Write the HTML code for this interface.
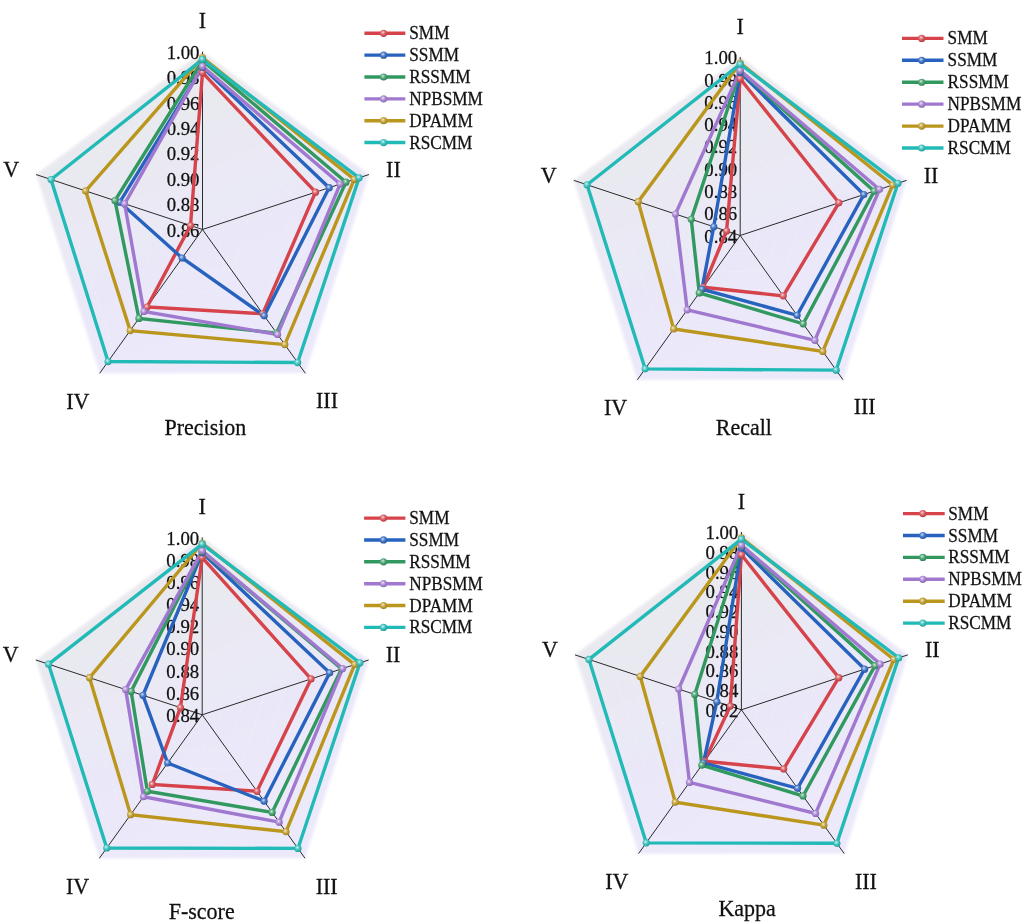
<!DOCTYPE html>
<html><head><meta charset="utf-8"><title>Radar charts</title>
<style>
html,body{margin:0;padding:0;background:#fff;}
body{width:1024px;height:924px;overflow:hidden;}
svg{display:block;filter:blur(0.4px);}
text{font-family:"Liberation Serif",serif;fill:#111;stroke:#111;stroke-width:0.25px;}
</style></head><body>
<svg width="1024" height="924" viewBox="0 0 1024 924">
<defs>
<linearGradient id="bg" x1="0.1" y1="0" x2="0.55" y2="1"><stop offset="0" stop-color="#e9e9ec"/><stop offset="0.35" stop-color="#e9e9f1"/><stop offset="0.65" stop-color="#eae8f8"/><stop offset="1" stop-color="#ebe9fa"/></linearGradient>
<radialGradient id="m0" cx="0.42" cy="0.4" r="0.62" fx="0.4" fy="0.36"><stop offset="0" stop-color="#f7d9db"/><stop offset="0.45" stop-color="#de696e"/><stop offset="1" stop-color="#b6393f"/></radialGradient>
<radialGradient id="m1" cx="0.42" cy="0.4" r="0.62" fx="0.4" fy="0.36"><stop offset="0" stop-color="#d4e0f2"/><stop offset="0.45" stop-color="#5281cc"/><stop offset="1" stop-color="#2153a2"/></radialGradient>
<radialGradient id="m2" cx="0.42" cy="0.4" r="0.62" fx="0.4" fy="0.36"><stop offset="0" stop-color="#d6ebdf"/><stop offset="0.45" stop-color="#5aad7f"/><stop offset="1" stop-color="#2a8251"/></radialGradient>
<radialGradient id="m3" cx="0.42" cy="0.4" r="0.62" fx="0.4" fy="0.36"><stop offset="0" stop-color="#ece4f6"/><stop offset="0.45" stop-color="#b393d9"/><stop offset="1" stop-color="#8866b1"/></radialGradient>
<radialGradient id="m4" cx="0.42" cy="0.4" r="0.62" fx="0.4" fy="0.36"><stop offset="0" stop-color="#f1ead2"/><stop offset="0.45" stop-color="#c9ab49"/><stop offset="1" stop-color="#9f8018"/></radialGradient>
<radialGradient id="m5" cx="0.42" cy="0.4" r="0.62" fx="0.4" fy="0.36"><stop offset="0" stop-color="#d3f1f1"/><stop offset="0.45" stop-color="#4ec8c5"/><stop offset="1" stop-color="#1d9e9c"/></radialGradient>
<filter id="halo" x="-10%" y="-10%" width="120%" height="120%"><feGaussianBlur stdDeviation="1.8"/></filter>
</defs>
<polygon points="202.5,51.7 368.93,174.56 305.36,373.34 99.64,373.34 36.07,174.56" fill="url(#bg)" filter="url(#halo)"/>
<polygon points="202.5,204.1 226.28,221.65 217.19,250.05 187.81,250.05 178.72,221.65" fill="none" stroke="#f3f3fb" stroke-width="0.8" stroke-dasharray="3,3" opacity="0.7"/>
<polygon points="202.5,178.7 250.05,213.8 231.89,270.6 173.11,270.6 154.95,213.8" fill="none" stroke="#f3f3fb" stroke-width="0.8" stroke-dasharray="3,3" opacity="0.7"/>
<polygon points="202.5,153.3 273.83,205.95 246.58,291.15 158.42,291.15 131.17,205.95" fill="none" stroke="#f3f3fb" stroke-width="0.8" stroke-dasharray="3,3" opacity="0.7"/>
<polygon points="202.5,127.9 297.61,198.1 261.28,311.7 143.72,311.7 107.39,198.1" fill="none" stroke="#f3f3fb" stroke-width="0.8" stroke-dasharray="3,3" opacity="0.7"/>
<polygon points="202.5,102.5 321.38,190.25 275.97,332.25 129.03,332.25 83.62,190.25" fill="none" stroke="#f3f3fb" stroke-width="0.8" stroke-dasharray="3,3" opacity="0.7"/>
<polygon points="202.5,77.1 345.16,182.41 290.67,352.79 114.33,352.79 59.84,182.41" fill="none" stroke="#f3f3fb" stroke-width="0.8" stroke-dasharray="3,3" opacity="0.7"/>
<line x1="202.5" y1="229.5" x2="202.5" y2="51.7" stroke="#2a2a2a" stroke-width="1"/>
<line x1="202.5" y1="229.5" x2="368.93" y2="174.56" stroke="#2a2a2a" stroke-width="1"/>
<line x1="202.5" y1="229.5" x2="305.36" y2="373.34" stroke="#2a2a2a" stroke-width="1"/>
<line x1="202.5" y1="229.5" x2="99.64" y2="373.34" stroke="#2a2a2a" stroke-width="1"/>
<line x1="202.5" y1="229.5" x2="36.07" y2="174.56" stroke="#2a2a2a" stroke-width="1"/>
<text transform="translate(199.5,52.2) scale(1,1.04)" font-size="18.8" text-anchor="end" dominant-baseline="central">1.00</text>
<text transform="translate(199.5,77.6) scale(1,1.04)" font-size="18.8" text-anchor="end" dominant-baseline="central">0.98</text>
<text transform="translate(199.5,103) scale(1,1.04)" font-size="18.8" text-anchor="end" dominant-baseline="central">0.96</text>
<text transform="translate(199.5,128.4) scale(1,1.04)" font-size="18.8" text-anchor="end" dominant-baseline="central">0.94</text>
<text transform="translate(199.5,153.8) scale(1,1.04)" font-size="18.8" text-anchor="end" dominant-baseline="central">0.92</text>
<text transform="translate(199.5,179.2) scale(1,1.04)" font-size="18.8" text-anchor="end" dominant-baseline="central">0.90</text>
<text transform="translate(199.5,204.6) scale(1,1.04)" font-size="18.8" text-anchor="end" dominant-baseline="central">0.88</text>
<text transform="translate(199.5,230) scale(1,1.04)" font-size="18.8" text-anchor="end" dominant-baseline="central">0.86</text>
<polygon points="202.5,72.68 315.51,192.19 262.78,313.79 147.06,307.03 190.52,225.54" fill="none" stroke="#d6434a" stroke-width="3.4" stroke-linejoin="miter"/>
<polygon points="202.5,67.17 329.16,187.69 264.22,315.81 182.13,257.98 119.78,202.19" fill="none" stroke="#2762bf" stroke-width="3.4" stroke-linejoin="miter"/>
<polygon points="202.5,60.59 345.97,182.14 276.56,333.07 138.93,318.4 114.96,200.6" fill="none" stroke="#31995f" stroke-width="3.4" stroke-linejoin="miter"/>
<polygon points="202.5,66.28 340.14,184.06 277.59,334.51 143.87,311.49 124.61,203.79" fill="none" stroke="#a078d0" stroke-width="3.4" stroke-linejoin="miter"/>
<polygon points="202.5,57.57 354.29,179.39 284.79,344.57 130.19,330.62 85.66,190.93" fill="none" stroke="#bb961c" stroke-width="3.4" stroke-linejoin="miter"/>
<polygon points="202.5,59.35 359.12,177.8 297.65,362.55 108.07,361.55 51.04,179.5" fill="none" stroke="#22bab7" stroke-width="3.4" stroke-linejoin="miter"/>
<circle cx="202.5" cy="72.68" r="3.6" fill="url(#m0)"/>
<circle cx="315.51" cy="192.19" r="3.6" fill="url(#m0)"/>
<circle cx="262.78" cy="313.79" r="3.6" fill="url(#m0)"/>
<circle cx="147.06" cy="307.03" r="3.6" fill="url(#m0)"/>
<circle cx="190.52" cy="225.54" r="3.6" fill="url(#m0)"/>
<circle cx="202.5" cy="67.17" r="3.6" fill="url(#m1)"/>
<circle cx="329.16" cy="187.69" r="3.6" fill="url(#m1)"/>
<circle cx="264.22" cy="315.81" r="3.6" fill="url(#m1)"/>
<circle cx="182.13" cy="257.98" r="3.6" fill="url(#m1)"/>
<circle cx="119.78" cy="202.19" r="3.6" fill="url(#m1)"/>
<circle cx="202.5" cy="60.59" r="3.6" fill="url(#m2)"/>
<circle cx="345.97" cy="182.14" r="3.6" fill="url(#m2)"/>
<circle cx="276.56" cy="333.07" r="3.6" fill="url(#m2)"/>
<circle cx="138.93" cy="318.4" r="3.6" fill="url(#m2)"/>
<circle cx="114.96" cy="200.6" r="3.6" fill="url(#m2)"/>
<circle cx="202.5" cy="66.28" r="3.6" fill="url(#m3)"/>
<circle cx="340.14" cy="184.06" r="3.6" fill="url(#m3)"/>
<circle cx="277.59" cy="334.51" r="3.6" fill="url(#m3)"/>
<circle cx="143.87" cy="311.49" r="3.6" fill="url(#m3)"/>
<circle cx="124.61" cy="203.79" r="3.6" fill="url(#m3)"/>
<circle cx="202.5" cy="57.57" r="3.6" fill="url(#m4)"/>
<circle cx="354.29" cy="179.39" r="3.6" fill="url(#m4)"/>
<circle cx="284.79" cy="344.57" r="3.6" fill="url(#m4)"/>
<circle cx="130.19" cy="330.62" r="3.6" fill="url(#m4)"/>
<circle cx="85.66" cy="190.93" r="3.6" fill="url(#m4)"/>
<circle cx="202.5" cy="59.35" r="3.6" fill="url(#m5)"/>
<circle cx="359.12" cy="177.8" r="3.6" fill="url(#m5)"/>
<circle cx="297.65" cy="362.55" r="3.6" fill="url(#m5)"/>
<circle cx="108.07" cy="361.55" r="3.6" fill="url(#m5)"/>
<circle cx="51.04" cy="179.5" r="3.6" fill="url(#m5)"/>
<text transform="translate(202.5,28.3) scale(1,1.07)" font-size="22" text-anchor="middle">I</text>
<text transform="translate(393.4,176.5) scale(1,1.07)" font-size="22" text-anchor="middle">II</text>
<text transform="translate(327,408.3) scale(1,1.07)" font-size="22" text-anchor="middle">III</text>
<text transform="translate(77.9,408.8) scale(1,1.07)" font-size="22" text-anchor="middle">IV</text>
<text transform="translate(11.1,176.9) scale(1,1.07)" font-size="22" text-anchor="middle">V</text>
<text transform="translate(205.4,434.6) scale(1,1.07)" font-size="22" text-anchor="middle">Precision</text>
<line x1="364.4" y1="33.3" x2="405.3" y2="33.3" stroke="#d6434a" stroke-width="3.4" stroke-linecap="butt"/>
<circle cx="383.6" cy="33.3" r="3.6" fill="url(#m0)"/>
<text transform="translate(409.3,39.3) scale(1,1.05)" font-size="17.2">SMM</text>
<line x1="364.4" y1="55.15" x2="405.3" y2="55.15" stroke="#2762bf" stroke-width="3.4" stroke-linecap="butt"/>
<circle cx="383.6" cy="55.15" r="3.6" fill="url(#m1)"/>
<text transform="translate(409.3,61.15) scale(1,1.05)" font-size="17.2">SSMM</text>
<line x1="364.4" y1="77" x2="405.3" y2="77" stroke="#31995f" stroke-width="3.4" stroke-linecap="butt"/>
<circle cx="383.6" cy="77" r="3.6" fill="url(#m2)"/>
<text transform="translate(409.3,83) scale(1,1.05)" font-size="17.2">RSSMM</text>
<line x1="364.4" y1="98.85" x2="405.3" y2="98.85" stroke="#a078d0" stroke-width="3.4" stroke-linecap="butt"/>
<circle cx="383.6" cy="98.85" r="3.6" fill="url(#m3)"/>
<text transform="translate(409.3,104.85) scale(1,1.05)" font-size="17.2">NPBSMM</text>
<line x1="364.4" y1="120.7" x2="405.3" y2="120.7" stroke="#bb961c" stroke-width="3.4" stroke-linecap="butt"/>
<circle cx="383.6" cy="120.7" r="3.6" fill="url(#m4)"/>
<text transform="translate(409.3,126.7) scale(1,1.05)" font-size="17.2">DPAMM</text>
<line x1="364.4" y1="142.55" x2="405.3" y2="142.55" stroke="#22bab7" stroke-width="3.4" stroke-linecap="butt"/>
<circle cx="383.6" cy="142.55" r="3.6" fill="url(#m5)"/>
<text transform="translate(409.3,148.55) scale(1,1.05)" font-size="17.2">RSCMM</text>
<polygon points="740.2,57.1 906.63,180.37 843.06,379.83 637.34,379.83 573.77,180.37" fill="url(#bg)" filter="url(#halo)"/>
<polygon points="740.2,213.2 761,228.61 753.06,253.54 727.34,253.54 719.4,228.61" fill="none" stroke="#f3f3fb" stroke-width="0.8" stroke-dasharray="3,3" opacity="0.7"/>
<polygon points="740.2,190.9 781.81,221.72 765.92,271.58 714.48,271.58 698.59,221.72" fill="none" stroke="#f3f3fb" stroke-width="0.8" stroke-dasharray="3,3" opacity="0.7"/>
<polygon points="740.2,168.6 802.61,214.83 778.77,289.62 701.63,289.62 677.79,214.83" fill="none" stroke="#f3f3fb" stroke-width="0.8" stroke-dasharray="3,3" opacity="0.7"/>
<polygon points="740.2,146.3 823.42,207.94 791.63,307.66 688.77,307.66 656.98,207.94" fill="none" stroke="#f3f3fb" stroke-width="0.8" stroke-dasharray="3,3" opacity="0.7"/>
<polygon points="740.2,124 844.22,201.04 804.49,325.71 675.91,325.71 636.18,201.04" fill="none" stroke="#f3f3fb" stroke-width="0.8" stroke-dasharray="3,3" opacity="0.7"/>
<polygon points="740.2,101.7 865.03,194.15 817.35,343.75 663.05,343.75 615.37,194.15" fill="none" stroke="#f3f3fb" stroke-width="0.8" stroke-dasharray="3,3" opacity="0.7"/>
<polygon points="740.2,79.4 885.83,187.26 830.2,361.79 650.2,361.79 594.57,187.26" fill="none" stroke="#f3f3fb" stroke-width="0.8" stroke-dasharray="3,3" opacity="0.7"/>
<line x1="740.2" y1="235.5" x2="740.2" y2="57.1" stroke="#2a2a2a" stroke-width="1"/>
<line x1="740.2" y1="235.5" x2="906.63" y2="180.37" stroke="#2a2a2a" stroke-width="1"/>
<line x1="740.2" y1="235.5" x2="843.06" y2="379.83" stroke="#2a2a2a" stroke-width="1"/>
<line x1="740.2" y1="235.5" x2="637.34" y2="379.83" stroke="#2a2a2a" stroke-width="1"/>
<line x1="740.2" y1="235.5" x2="573.77" y2="180.37" stroke="#2a2a2a" stroke-width="1"/>
<text transform="translate(737.2,57.6) scale(1,1.04)" font-size="18.8" text-anchor="end" dominant-baseline="central">1.00</text>
<text transform="translate(737.2,79.9) scale(1,1.04)" font-size="18.8" text-anchor="end" dominant-baseline="central">0.98</text>
<text transform="translate(737.2,102.2) scale(1,1.04)" font-size="18.8" text-anchor="end" dominant-baseline="central">0.96</text>
<text transform="translate(737.2,124.5) scale(1,1.04)" font-size="18.8" text-anchor="end" dominant-baseline="central">0.94</text>
<text transform="translate(737.2,146.8) scale(1,1.04)" font-size="18.8" text-anchor="end" dominant-baseline="central">0.92</text>
<text transform="translate(737.2,169.1) scale(1,1.04)" font-size="18.8" text-anchor="end" dominant-baseline="central">0.90</text>
<text transform="translate(737.2,191.4) scale(1,1.04)" font-size="18.8" text-anchor="end" dominant-baseline="central">0.88</text>
<text transform="translate(737.2,213.7) scale(1,1.04)" font-size="18.8" text-anchor="end" dominant-baseline="central">0.86</text>
<text transform="translate(737.2,236) scale(1,1.04)" font-size="18.8" text-anchor="end" dominant-baseline="central">0.84</text>
<polygon points="740.2,78.69 838.9,202.81 783.2,295.83 703.27,287.31 726.55,230.98" fill="none" stroke="#d6434a" stroke-width="3.4" stroke-linejoin="miter"/>
<polygon points="740.2,72.44 863.86,194.54 797.08,315.31 701.94,289.19 713.74,226.73" fill="none" stroke="#2762bf" stroke-width="3.4" stroke-linejoin="miter"/>
<polygon points="740.2,70.84 874.18,191.12 803.15,323.83 699.26,292.94 691.27,219.29" fill="none" stroke="#31995f" stroke-width="3.4" stroke-linejoin="miter"/>
<polygon points="740.2,70.48 879.51,189.36 814.88,340.28 687.23,309.83 675.46,214.05" fill="none" stroke="#a078d0" stroke-width="3.4" stroke-linejoin="miter"/>
<polygon points="740.2,62.99 892.65,185 822.8,351.4 673.65,328.88 638.18,201.71" fill="none" stroke="#bb961c" stroke-width="3.4" stroke-linejoin="miter"/>
<polygon points="740.2,64.24 897.98,183.24 836.17,370.16 645.16,368.86 587.08,184.78" fill="none" stroke="#22bab7" stroke-width="3.4" stroke-linejoin="miter"/>
<circle cx="740.2" cy="78.69" r="3.6" fill="url(#m0)"/>
<circle cx="838.9" cy="202.81" r="3.6" fill="url(#m0)"/>
<circle cx="783.2" cy="295.83" r="3.6" fill="url(#m0)"/>
<circle cx="703.27" cy="287.31" r="3.6" fill="url(#m0)"/>
<circle cx="726.55" cy="230.98" r="3.6" fill="url(#m0)"/>
<circle cx="740.2" cy="72.44" r="3.6" fill="url(#m1)"/>
<circle cx="863.86" cy="194.54" r="3.6" fill="url(#m1)"/>
<circle cx="797.08" cy="315.31" r="3.6" fill="url(#m1)"/>
<circle cx="701.94" cy="289.19" r="3.6" fill="url(#m1)"/>
<circle cx="713.74" cy="226.73" r="3.6" fill="url(#m1)"/>
<circle cx="740.2" cy="70.84" r="3.6" fill="url(#m2)"/>
<circle cx="874.18" cy="191.12" r="3.6" fill="url(#m2)"/>
<circle cx="803.15" cy="323.83" r="3.6" fill="url(#m2)"/>
<circle cx="699.26" cy="292.94" r="3.6" fill="url(#m2)"/>
<circle cx="691.27" cy="219.29" r="3.6" fill="url(#m2)"/>
<circle cx="740.2" cy="70.48" r="3.6" fill="url(#m3)"/>
<circle cx="879.51" cy="189.36" r="3.6" fill="url(#m3)"/>
<circle cx="814.88" cy="340.28" r="3.6" fill="url(#m3)"/>
<circle cx="687.23" cy="309.83" r="3.6" fill="url(#m3)"/>
<circle cx="675.46" cy="214.05" r="3.6" fill="url(#m3)"/>
<circle cx="740.2" cy="62.99" r="3.6" fill="url(#m4)"/>
<circle cx="892.65" cy="185" r="3.6" fill="url(#m4)"/>
<circle cx="822.8" cy="351.4" r="3.6" fill="url(#m4)"/>
<circle cx="673.65" cy="328.88" r="3.6" fill="url(#m4)"/>
<circle cx="638.18" cy="201.71" r="3.6" fill="url(#m4)"/>
<circle cx="740.2" cy="64.24" r="3.6" fill="url(#m5)"/>
<circle cx="897.98" cy="183.24" r="3.6" fill="url(#m5)"/>
<circle cx="836.17" cy="370.16" r="3.6" fill="url(#m5)"/>
<circle cx="645.16" cy="368.86" r="3.6" fill="url(#m5)"/>
<circle cx="587.08" cy="184.78" r="3.6" fill="url(#m5)"/>
<text transform="translate(740.2,34.3) scale(1,1.07)" font-size="22" text-anchor="middle">I</text>
<text transform="translate(931.1,182.5) scale(1,1.07)" font-size="22" text-anchor="middle">II</text>
<text transform="translate(864.7,414.3) scale(1,1.07)" font-size="22" text-anchor="middle">III</text>
<text transform="translate(615.6,414.8) scale(1,1.07)" font-size="22" text-anchor="middle">IV</text>
<text transform="translate(548.8,182.9) scale(1,1.07)" font-size="22" text-anchor="middle">V</text>
<text transform="translate(743.8,435.3) scale(1,1.07)" font-size="22" text-anchor="middle">Recall</text>
<line x1="902" y1="38.4" x2="943.5" y2="38.4" stroke="#d6434a" stroke-width="3.4" stroke-linecap="butt"/>
<circle cx="921.7" cy="38.4" r="3.6" fill="url(#m0)"/>
<text transform="translate(947.6,44.4) scale(1,1.05)" font-size="17.2">SMM</text>
<line x1="902" y1="60.32" x2="943.5" y2="60.32" stroke="#2762bf" stroke-width="3.4" stroke-linecap="butt"/>
<circle cx="921.7" cy="60.32" r="3.6" fill="url(#m1)"/>
<text transform="translate(947.6,66.32) scale(1,1.05)" font-size="17.2">SSMM</text>
<line x1="902" y1="82.24" x2="943.5" y2="82.24" stroke="#31995f" stroke-width="3.4" stroke-linecap="butt"/>
<circle cx="921.7" cy="82.24" r="3.6" fill="url(#m2)"/>
<text transform="translate(947.6,88.24) scale(1,1.05)" font-size="17.2">RSSMM</text>
<line x1="902" y1="104.16" x2="943.5" y2="104.16" stroke="#a078d0" stroke-width="3.4" stroke-linecap="butt"/>
<circle cx="921.7" cy="104.16" r="3.6" fill="url(#m3)"/>
<text transform="translate(947.6,110.16) scale(1,1.05)" font-size="17.2">NPBSMM</text>
<line x1="902" y1="126.08" x2="943.5" y2="126.08" stroke="#bb961c" stroke-width="3.4" stroke-linecap="butt"/>
<circle cx="921.7" cy="126.08" r="3.6" fill="url(#m4)"/>
<text transform="translate(947.6,132.08) scale(1,1.05)" font-size="17.2">DPAMM</text>
<line x1="902" y1="148" x2="943.5" y2="148" stroke="#22bab7" stroke-width="3.4" stroke-linecap="butt"/>
<circle cx="921.7" cy="148" r="3.6" fill="url(#m5)"/>
<text transform="translate(947.6,154) scale(1,1.05)" font-size="17.2">RSCMM</text>
<polygon points="202.2,537.4 368.63,659.98 305.06,858.32 99.34,858.32 35.77,659.98" fill="url(#bg)" filter="url(#halo)"/>
<polygon points="202.2,692.62 223,707.95 215.06,732.74 189.34,732.74 181.4,707.95" fill="none" stroke="#f3f3fb" stroke-width="0.8" stroke-dasharray="3,3" opacity="0.7"/>
<polygon points="202.2,670.45 243.81,701.1 227.92,750.68 176.48,750.68 160.59,701.1" fill="none" stroke="#f3f3fb" stroke-width="0.8" stroke-dasharray="3,3" opacity="0.7"/>
<polygon points="202.2,648.27 264.61,694.24 240.77,768.62 163.63,768.62 139.79,694.24" fill="none" stroke="#f3f3fb" stroke-width="0.8" stroke-dasharray="3,3" opacity="0.7"/>
<polygon points="202.2,626.1 285.42,687.39 253.63,786.56 150.77,786.56 118.98,687.39" fill="none" stroke="#f3f3fb" stroke-width="0.8" stroke-dasharray="3,3" opacity="0.7"/>
<polygon points="202.2,603.92 306.22,680.54 266.49,804.5 137.91,804.5 98.18,680.54" fill="none" stroke="#f3f3fb" stroke-width="0.8" stroke-dasharray="3,3" opacity="0.7"/>
<polygon points="202.2,581.75 327.03,673.69 279.35,822.44 125.05,822.44 77.37,673.69" fill="none" stroke="#f3f3fb" stroke-width="0.8" stroke-dasharray="3,3" opacity="0.7"/>
<polygon points="202.2,559.57 347.83,666.83 292.2,840.38 112.2,840.38 56.57,666.83" fill="none" stroke="#f3f3fb" stroke-width="0.8" stroke-dasharray="3,3" opacity="0.7"/>
<line x1="202.2" y1="714.8" x2="202.2" y2="537.4" stroke="#2a2a2a" stroke-width="1"/>
<line x1="202.2" y1="714.8" x2="368.63" y2="659.98" stroke="#2a2a2a" stroke-width="1"/>
<line x1="202.2" y1="714.8" x2="305.06" y2="858.32" stroke="#2a2a2a" stroke-width="1"/>
<line x1="202.2" y1="714.8" x2="99.34" y2="858.32" stroke="#2a2a2a" stroke-width="1"/>
<line x1="202.2" y1="714.8" x2="35.77" y2="659.98" stroke="#2a2a2a" stroke-width="1"/>
<text transform="translate(199.2,537.9) scale(1,1.04)" font-size="18.8" text-anchor="end" dominant-baseline="central">1.00</text>
<text transform="translate(199.2,560.07) scale(1,1.04)" font-size="18.8" text-anchor="end" dominant-baseline="central">0.98</text>
<text transform="translate(199.2,582.25) scale(1,1.04)" font-size="18.8" text-anchor="end" dominant-baseline="central">0.96</text>
<text transform="translate(199.2,604.42) scale(1,1.04)" font-size="18.8" text-anchor="end" dominant-baseline="central">0.94</text>
<text transform="translate(199.2,626.6) scale(1,1.04)" font-size="18.8" text-anchor="end" dominant-baseline="central">0.92</text>
<text transform="translate(199.2,648.77) scale(1,1.04)" font-size="18.8" text-anchor="end" dominant-baseline="central">0.90</text>
<text transform="translate(199.2,670.95) scale(1,1.04)" font-size="18.8" text-anchor="end" dominant-baseline="central">0.88</text>
<text transform="translate(199.2,693.12) scale(1,1.04)" font-size="18.8" text-anchor="end" dominant-baseline="central">0.86</text>
<text transform="translate(199.2,715.3) scale(1,1.04)" font-size="18.8" text-anchor="end" dominant-baseline="central">0.84</text>
<polygon points="202.2,557.62 311.05,678.95 257.03,791.3 152.31,784.41 180.4,707.62" fill="none" stroke="#d6434a" stroke-width="3.4" stroke-linejoin="miter"/>
<polygon points="202.2,552.83 329.69,672.81 264.12,801.2 167.64,763.02 142.95,695.28" fill="none" stroke="#2762bf" stroke-width="3.4" stroke-linejoin="miter"/>
<polygon points="202.2,551.41 341.67,668.86 272.15,812.39 147.37,791.3 131.13,691.39" fill="none" stroke="#31995f" stroke-width="3.4" stroke-linejoin="miter"/>
<polygon points="202.2,550.7 342.67,668.53 279.14,822.15 143.47,796.75 125.64,689.58" fill="none" stroke="#a078d0" stroke-width="3.4" stroke-linejoin="miter"/>
<polygon points="202.2,543.25 354.65,664.59 286.03,831.77 130.61,814.69 89.52,677.69" fill="none" stroke="#bb961c" stroke-width="3.4" stroke-linejoin="miter"/>
<polygon points="202.2,544.14 359.98,662.83 297.96,848.42 106.74,847.99 48.58,664.2" fill="none" stroke="#22bab7" stroke-width="3.4" stroke-linejoin="miter"/>
<circle cx="202.2" cy="557.62" r="3.6" fill="url(#m0)"/>
<circle cx="311.05" cy="678.95" r="3.6" fill="url(#m0)"/>
<circle cx="257.03" cy="791.3" r="3.6" fill="url(#m0)"/>
<circle cx="152.31" cy="784.41" r="3.6" fill="url(#m0)"/>
<circle cx="180.4" cy="707.62" r="3.6" fill="url(#m0)"/>
<circle cx="202.2" cy="552.83" r="3.6" fill="url(#m1)"/>
<circle cx="329.69" cy="672.81" r="3.6" fill="url(#m1)"/>
<circle cx="264.12" cy="801.2" r="3.6" fill="url(#m1)"/>
<circle cx="167.64" cy="763.02" r="3.6" fill="url(#m1)"/>
<circle cx="142.95" cy="695.28" r="3.6" fill="url(#m1)"/>
<circle cx="202.2" cy="551.41" r="3.6" fill="url(#m2)"/>
<circle cx="341.67" cy="668.86" r="3.6" fill="url(#m2)"/>
<circle cx="272.15" cy="812.39" r="3.6" fill="url(#m2)"/>
<circle cx="147.37" cy="791.3" r="3.6" fill="url(#m2)"/>
<circle cx="131.13" cy="691.39" r="3.6" fill="url(#m2)"/>
<circle cx="202.2" cy="550.7" r="3.6" fill="url(#m3)"/>
<circle cx="342.67" cy="668.53" r="3.6" fill="url(#m3)"/>
<circle cx="279.14" cy="822.15" r="3.6" fill="url(#m3)"/>
<circle cx="143.47" cy="796.75" r="3.6" fill="url(#m3)"/>
<circle cx="125.64" cy="689.58" r="3.6" fill="url(#m3)"/>
<circle cx="202.2" cy="543.25" r="3.6" fill="url(#m4)"/>
<circle cx="354.65" cy="664.59" r="3.6" fill="url(#m4)"/>
<circle cx="286.03" cy="831.77" r="3.6" fill="url(#m4)"/>
<circle cx="130.61" cy="814.69" r="3.6" fill="url(#m4)"/>
<circle cx="89.52" cy="677.69" r="3.6" fill="url(#m4)"/>
<circle cx="202.2" cy="544.14" r="3.6" fill="url(#m5)"/>
<circle cx="359.98" cy="662.83" r="3.6" fill="url(#m5)"/>
<circle cx="297.96" cy="848.42" r="3.6" fill="url(#m5)"/>
<circle cx="106.74" cy="847.99" r="3.6" fill="url(#m5)"/>
<circle cx="48.58" cy="664.2" r="3.6" fill="url(#m5)"/>
<text transform="translate(202.2,513.6) scale(1,1.07)" font-size="22" text-anchor="middle">I</text>
<text transform="translate(393.1,661.8) scale(1,1.07)" font-size="22" text-anchor="middle">II</text>
<text transform="translate(326.7,893.6) scale(1,1.07)" font-size="22" text-anchor="middle">III</text>
<text transform="translate(77.6,894.1) scale(1,1.07)" font-size="22" text-anchor="middle">IV</text>
<text transform="translate(10.8,662.2) scale(1,1.07)" font-size="22" text-anchor="middle">V</text>
<text transform="translate(201.7,918.9) scale(1,1.07)" font-size="22" text-anchor="middle">F-score</text>
<line x1="364.1" y1="518.1" x2="405.4" y2="518.1" stroke="#d6434a" stroke-width="3.4" stroke-linecap="butt"/>
<circle cx="383.5" cy="518.1" r="3.6" fill="url(#m0)"/>
<text transform="translate(409.3,524.1) scale(1,1.05)" font-size="17.2">SMM</text>
<line x1="364.1" y1="539.96" x2="405.4" y2="539.96" stroke="#2762bf" stroke-width="3.4" stroke-linecap="butt"/>
<circle cx="383.5" cy="539.96" r="3.6" fill="url(#m1)"/>
<text transform="translate(409.3,545.96) scale(1,1.05)" font-size="17.2">SSMM</text>
<line x1="364.1" y1="561.82" x2="405.4" y2="561.82" stroke="#31995f" stroke-width="3.4" stroke-linecap="butt"/>
<circle cx="383.5" cy="561.82" r="3.6" fill="url(#m2)"/>
<text transform="translate(409.3,567.82) scale(1,1.05)" font-size="17.2">RSSMM</text>
<line x1="364.1" y1="583.68" x2="405.4" y2="583.68" stroke="#a078d0" stroke-width="3.4" stroke-linecap="butt"/>
<circle cx="383.5" cy="583.68" r="3.6" fill="url(#m3)"/>
<text transform="translate(409.3,589.68) scale(1,1.05)" font-size="17.2">NPBSMM</text>
<line x1="364.1" y1="605.54" x2="405.4" y2="605.54" stroke="#bb961c" stroke-width="3.4" stroke-linecap="butt"/>
<circle cx="383.5" cy="605.54" r="3.6" fill="url(#m4)"/>
<text transform="translate(409.3,611.54) scale(1,1.05)" font-size="17.2">DPAMM</text>
<line x1="364.1" y1="627.4" x2="405.4" y2="627.4" stroke="#22bab7" stroke-width="3.4" stroke-linecap="butt"/>
<circle cx="383.5" cy="627.4" r="3.6" fill="url(#m5)"/>
<text transform="translate(409.3,633.4) scale(1,1.05)" font-size="17.2">RSCMM</text>
<polygon points="741.4,532 907.83,654.86 844.26,853.64 638.54,853.64 574.97,654.86" fill="url(#bg)" filter="url(#halo)"/>
<polygon points="741.4,690.04 759.89,703.7 752.83,725.78 729.97,725.78 722.91,703.7" fill="none" stroke="#f3f3fb" stroke-width="0.8" stroke-dasharray="3,3" opacity="0.7"/>
<polygon points="741.4,670.29 778.39,697.59 764.26,741.77 718.54,741.77 704.41,697.59" fill="none" stroke="#f3f3fb" stroke-width="0.8" stroke-dasharray="3,3" opacity="0.7"/>
<polygon points="741.4,650.53 796.88,691.49 775.69,757.75 707.11,757.75 685.92,691.49" fill="none" stroke="#f3f3fb" stroke-width="0.8" stroke-dasharray="3,3" opacity="0.7"/>
<polygon points="741.4,630.78 815.37,685.38 787.12,773.73 695.68,773.73 667.43,685.38" fill="none" stroke="#f3f3fb" stroke-width="0.8" stroke-dasharray="3,3" opacity="0.7"/>
<polygon points="741.4,611.02 833.86,679.28 798.55,789.71 684.25,789.71 648.94,679.28" fill="none" stroke="#f3f3fb" stroke-width="0.8" stroke-dasharray="3,3" opacity="0.7"/>
<polygon points="741.4,591.27 852.36,673.17 809.97,805.7 672.83,805.7 630.44,673.17" fill="none" stroke="#f3f3fb" stroke-width="0.8" stroke-dasharray="3,3" opacity="0.7"/>
<polygon points="741.4,571.51 870.85,667.07 821.4,821.68 661.4,821.68 611.95,667.07" fill="none" stroke="#f3f3fb" stroke-width="0.8" stroke-dasharray="3,3" opacity="0.7"/>
<polygon points="741.4,551.76 889.34,660.96 832.83,837.66 649.97,837.66 593.46,660.96" fill="none" stroke="#f3f3fb" stroke-width="0.8" stroke-dasharray="3,3" opacity="0.7"/>
<line x1="741.4" y1="709.8" x2="741.4" y2="532" stroke="#2a2a2a" stroke-width="1"/>
<line x1="741.4" y1="709.8" x2="907.83" y2="654.86" stroke="#2a2a2a" stroke-width="1"/>
<line x1="741.4" y1="709.8" x2="844.26" y2="853.64" stroke="#2a2a2a" stroke-width="1"/>
<line x1="741.4" y1="709.8" x2="638.54" y2="853.64" stroke="#2a2a2a" stroke-width="1"/>
<line x1="741.4" y1="709.8" x2="574.97" y2="654.86" stroke="#2a2a2a" stroke-width="1"/>
<text transform="translate(738.4,532.5) scale(1,1.04)" font-size="18.8" text-anchor="end" dominant-baseline="central">1.00</text>
<text transform="translate(738.4,552.26) scale(1,1.04)" font-size="18.8" text-anchor="end" dominant-baseline="central">0.98</text>
<text transform="translate(738.4,572.01) scale(1,1.04)" font-size="18.8" text-anchor="end" dominant-baseline="central">0.96</text>
<text transform="translate(738.4,591.77) scale(1,1.04)" font-size="18.8" text-anchor="end" dominant-baseline="central">0.94</text>
<text transform="translate(738.4,611.52) scale(1,1.04)" font-size="18.8" text-anchor="end" dominant-baseline="central">0.92</text>
<text transform="translate(738.4,631.28) scale(1,1.04)" font-size="18.8" text-anchor="end" dominant-baseline="central">0.90</text>
<text transform="translate(738.4,651.03) scale(1,1.04)" font-size="18.8" text-anchor="end" dominant-baseline="central">0.88</text>
<text transform="translate(738.4,670.79) scale(1,1.04)" font-size="18.8" text-anchor="end" dominant-baseline="central">0.86</text>
<text transform="translate(738.4,690.54) scale(1,1.04)" font-size="18.8" text-anchor="end" dominant-baseline="central">0.84</text>
<text transform="translate(738.4,710.3) scale(1,1.04)" font-size="18.8" text-anchor="end" dominant-baseline="central">0.82</text>
<polygon points="741.4,554.76 838.76,677.66 783.68,768.92 704.58,761.3 730.25,706.12" fill="none" stroke="#d6434a" stroke-width="3.4" stroke-linejoin="miter"/>
<polygon points="741.4,548 864.56,669.14 797.56,788.34 703.44,762.88 716.77,701.67" fill="none" stroke="#2762bf" stroke-width="3.4" stroke-linejoin="miter"/>
<polygon points="741.4,545.51 875.05,665.68 803.01,795.96 701.8,765.18 694.8,694.42" fill="none" stroke="#31995f" stroke-width="3.4" stroke-linejoin="miter"/>
<polygon points="741.4,545.16 880.21,663.98 815.56,813.51 689.45,782.44 678.65,689.09" fill="none" stroke="#a078d0" stroke-width="3.4" stroke-linejoin="miter"/>
<polygon points="741.4,537.87 893.85,659.47 823.9,825.16 675.26,802.29 640.21,676.39" fill="none" stroke="#bb961c" stroke-width="3.4" stroke-linejoin="miter"/>
<polygon points="741.4,539.11 898.68,657.88 836.86,843.29 646.25,842.85 588.95,659.47" fill="none" stroke="#22bab7" stroke-width="3.4" stroke-linejoin="miter"/>
<circle cx="741.4" cy="554.76" r="3.6" fill="url(#m0)"/>
<circle cx="838.76" cy="677.66" r="3.6" fill="url(#m0)"/>
<circle cx="783.68" cy="768.92" r="3.6" fill="url(#m0)"/>
<circle cx="704.58" cy="761.3" r="3.6" fill="url(#m0)"/>
<circle cx="730.25" cy="706.12" r="3.6" fill="url(#m0)"/>
<circle cx="741.4" cy="548" r="3.6" fill="url(#m1)"/>
<circle cx="864.56" cy="669.14" r="3.6" fill="url(#m1)"/>
<circle cx="797.56" cy="788.34" r="3.6" fill="url(#m1)"/>
<circle cx="703.44" cy="762.88" r="3.6" fill="url(#m1)"/>
<circle cx="716.77" cy="701.67" r="3.6" fill="url(#m1)"/>
<circle cx="741.4" cy="545.51" r="3.6" fill="url(#m2)"/>
<circle cx="875.05" cy="665.68" r="3.6" fill="url(#m2)"/>
<circle cx="803.01" cy="795.96" r="3.6" fill="url(#m2)"/>
<circle cx="701.8" cy="765.18" r="3.6" fill="url(#m2)"/>
<circle cx="694.8" cy="694.42" r="3.6" fill="url(#m2)"/>
<circle cx="741.4" cy="545.16" r="3.6" fill="url(#m3)"/>
<circle cx="880.21" cy="663.98" r="3.6" fill="url(#m3)"/>
<circle cx="815.56" cy="813.51" r="3.6" fill="url(#m3)"/>
<circle cx="689.45" cy="782.44" r="3.6" fill="url(#m3)"/>
<circle cx="678.65" cy="689.09" r="3.6" fill="url(#m3)"/>
<circle cx="741.4" cy="537.87" r="3.6" fill="url(#m4)"/>
<circle cx="893.85" cy="659.47" r="3.6" fill="url(#m4)"/>
<circle cx="823.9" cy="825.16" r="3.6" fill="url(#m4)"/>
<circle cx="675.26" cy="802.29" r="3.6" fill="url(#m4)"/>
<circle cx="640.21" cy="676.39" r="3.6" fill="url(#m4)"/>
<circle cx="741.4" cy="539.11" r="3.6" fill="url(#m5)"/>
<circle cx="898.68" cy="657.88" r="3.6" fill="url(#m5)"/>
<circle cx="836.86" cy="843.29" r="3.6" fill="url(#m5)"/>
<circle cx="646.25" cy="842.85" r="3.6" fill="url(#m5)"/>
<circle cx="588.95" cy="659.47" r="3.6" fill="url(#m5)"/>
<text transform="translate(741.4,508.6) scale(1,1.07)" font-size="22" text-anchor="middle">I</text>
<text transform="translate(932.3,656.8) scale(1,1.07)" font-size="22" text-anchor="middle">II</text>
<text transform="translate(865.9,888.6) scale(1,1.07)" font-size="22" text-anchor="middle">III</text>
<text transform="translate(616.8,889.1) scale(1,1.07)" font-size="22" text-anchor="middle">IV</text>
<text transform="translate(550,657.2) scale(1,1.07)" font-size="22" text-anchor="middle">V</text>
<text transform="translate(747.1,915.8) scale(1,1.07)" font-size="22" text-anchor="middle">Kappa</text>
<line x1="903" y1="513.6" x2="944.7" y2="513.6" stroke="#d6434a" stroke-width="3.4" stroke-linecap="butt"/>
<circle cx="922.8" cy="513.6" r="3.6" fill="url(#m0)"/>
<text transform="translate(948.3,519.6) scale(1,1.05)" font-size="17.2">SMM</text>
<line x1="903" y1="535.5" x2="944.7" y2="535.5" stroke="#2762bf" stroke-width="3.4" stroke-linecap="butt"/>
<circle cx="922.8" cy="535.5" r="3.6" fill="url(#m1)"/>
<text transform="translate(948.3,541.5) scale(1,1.05)" font-size="17.2">SSMM</text>
<line x1="903" y1="557.4" x2="944.7" y2="557.4" stroke="#31995f" stroke-width="3.4" stroke-linecap="butt"/>
<circle cx="922.8" cy="557.4" r="3.6" fill="url(#m2)"/>
<text transform="translate(948.3,563.4) scale(1,1.05)" font-size="17.2">RSSMM</text>
<line x1="903" y1="579.3" x2="944.7" y2="579.3" stroke="#a078d0" stroke-width="3.4" stroke-linecap="butt"/>
<circle cx="922.8" cy="579.3" r="3.6" fill="url(#m3)"/>
<text transform="translate(948.3,585.3) scale(1,1.05)" font-size="17.2">NPBSMM</text>
<line x1="903" y1="601.2" x2="944.7" y2="601.2" stroke="#bb961c" stroke-width="3.4" stroke-linecap="butt"/>
<circle cx="922.8" cy="601.2" r="3.6" fill="url(#m4)"/>
<text transform="translate(948.3,607.2) scale(1,1.05)" font-size="17.2">DPAMM</text>
<line x1="903" y1="623.1" x2="944.7" y2="623.1" stroke="#22bab7" stroke-width="3.4" stroke-linecap="butt"/>
<circle cx="922.8" cy="623.1" r="3.6" fill="url(#m5)"/>
<text transform="translate(948.3,629.1) scale(1,1.05)" font-size="17.2">RSCMM</text>
</svg>
</body></html>
